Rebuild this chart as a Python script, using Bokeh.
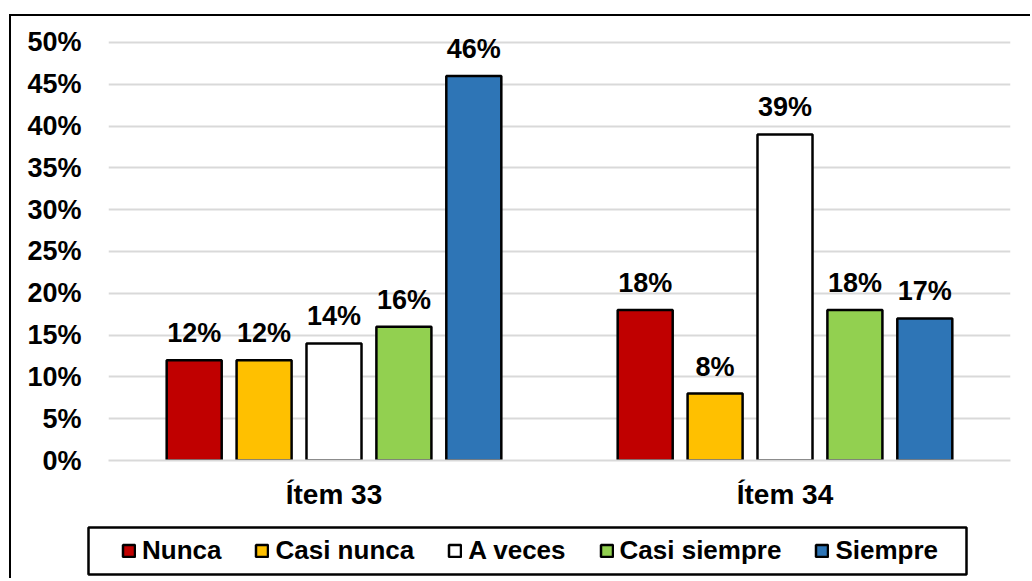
from bokeh.plotting import figure
from bokeh.layouts import column
from bokeh.models import (ColumnDataSource, FactorRange, FixedTicker, PrintfTickFormatter,
                          Legend, LegendItem, Range1d)
from bokeh.transform import dodge
from bokeh.core.properties import value
from bokeh.embed import file_html
from bokeh.resources import INLINE

items = ["Ítem 33", "Ítem 34"]
series = ["Nunca", "Casi nunca", "A veces", "Casi siempre", "Siempre"]
nunca = [12, 18]
casi_nunca = [12, 8]
a_veces = [14, 39]
casi_siempre = [16, 18]
siempre = [46, 17]
colors = ["#C00000", "#FFC000", "#FFFFFF", "#92D050", "#2E75B6"]
y_ticks = [0, 5, 10, 15, 20, 25, 30, 35, 40, 45, 50]

values = [nunca, casi_nunca, a_veces, casi_siempre, siempre]
data = {"item": items}
for i, v in enumerate(values):
    data[f"s{i}"] = v
    data[f"l{i}"] = [f"{x}%" for x in v]
source = ColumnDataSource(data)

FONT = value("Liberation Sans")

p = figure(x_range=FactorRange(*items, range_padding=0), y_range=Range1d(0, 53.11),
           width=1019, height=499, output_backend="svg", toolbar_location=None,
           min_border_left=97, min_border_right=20, min_border_top=0, min_border_bottom=55)
p.frame_align = False
p.outline_line_color = None
p.xgrid.grid_line_color = None
p.ygrid.grid_line_color = "#d9d9d9"
p.ygrid.grid_line_width = 2

offsets = [-0.31, -0.155, 0.0, 0.155, 0.31]
for i in range(5):
    p.vbar(x=dodge("item", offsets[i], range=p.x_range), top=f"s{i}", width=0.122,
           source=source, fill_color=colors[i], line_color="black", line_width=2.5)
    p.text(x=dodge("item", offsets[i], range=p.x_range), y=f"s{i}", text=f"l{i}", source=source,
           text_align="center", text_baseline="alphabetic", y_offset=-27,
           text_font=FONT, text_font_style="bold", text_font_size="27px", text_color="black")

p.yaxis.ticker = FixedTicker(ticks=y_ticks)
p.yaxis.formatter = PrintfTickFormatter(format="%d%%")
p.yaxis.axis_line_color = None
p.yaxis.major_tick_line_color = None
p.yaxis.minor_tick_line_color = None
p.yaxis.major_label_text_font = "Liberation Sans"
p.yaxis.major_label_text_font_style = "bold"
p.yaxis.major_label_text_font_size = "27px"
p.yaxis.major_label_text_color = "black"
p.yaxis.major_label_standoff = 21

p.xaxis.axis_line_color = "#d9d9d9"
p.xaxis.axis_line_width = 2
p.xaxis.major_tick_line_color = None
p.xaxis.minor_tick_line_color = None
p.xaxis.major_label_text_font = "Liberation Sans"
p.xaxis.major_label_text_font_style = "bold"
p.xaxis.major_label_text_font_size = "28px"
p.xaxis.major_label_text_color = "black"
p.xaxis.major_label_standoff = 12

# legend strip (its frame is the legend box)
leg = figure(width=1019, height=63, output_backend="svg", toolbar_location=None,
             x_axis_type=None, y_axis_type=None, x_range=Range1d(0, 1), y_range=Range1d(0, 1),
             min_border_left=77, min_border_right=64, min_border_top=12, min_border_bottom=4)
leg.frame_align = False
leg.outline_line_color = "black"
leg.outline_line_width = 2.5
leg_renderers = [leg.vbar(x=[-5], top=[-5], bottom=[-6], width=0.1, fill_color=colors[i],
                          line_color="black", line_width=2.5) for i in range(5)]
legend = Legend(items=[LegendItem(label=series[i], renderers=[leg_renderers[i]]) for i in range(5)],
                orientation="horizontal", location=(33, 8))
legend.label_text_font = "Liberation Sans"
legend.label_text_font_style = "bold"
legend.label_text_font_size = "26px"
legend.label_text_color = "black"
legend.glyph_width = 15
legend.glyph_height = 15
legend.label_standoff = 6
legend.spacing = 33
legend.padding = 0
legend.margin = 0
legend.border_line_color = None
legend.background_fill_alpha = 0
leg.add_layout(legend, "center")

layout = column(p, leg, spacing=0)
layout.margin = (14, 0, 0, 9)
layout.styles = {"border-left": "2px solid black", "border-top": "2px solid black"}

open("out.html", "w").write(file_html(layout, INLINE))
